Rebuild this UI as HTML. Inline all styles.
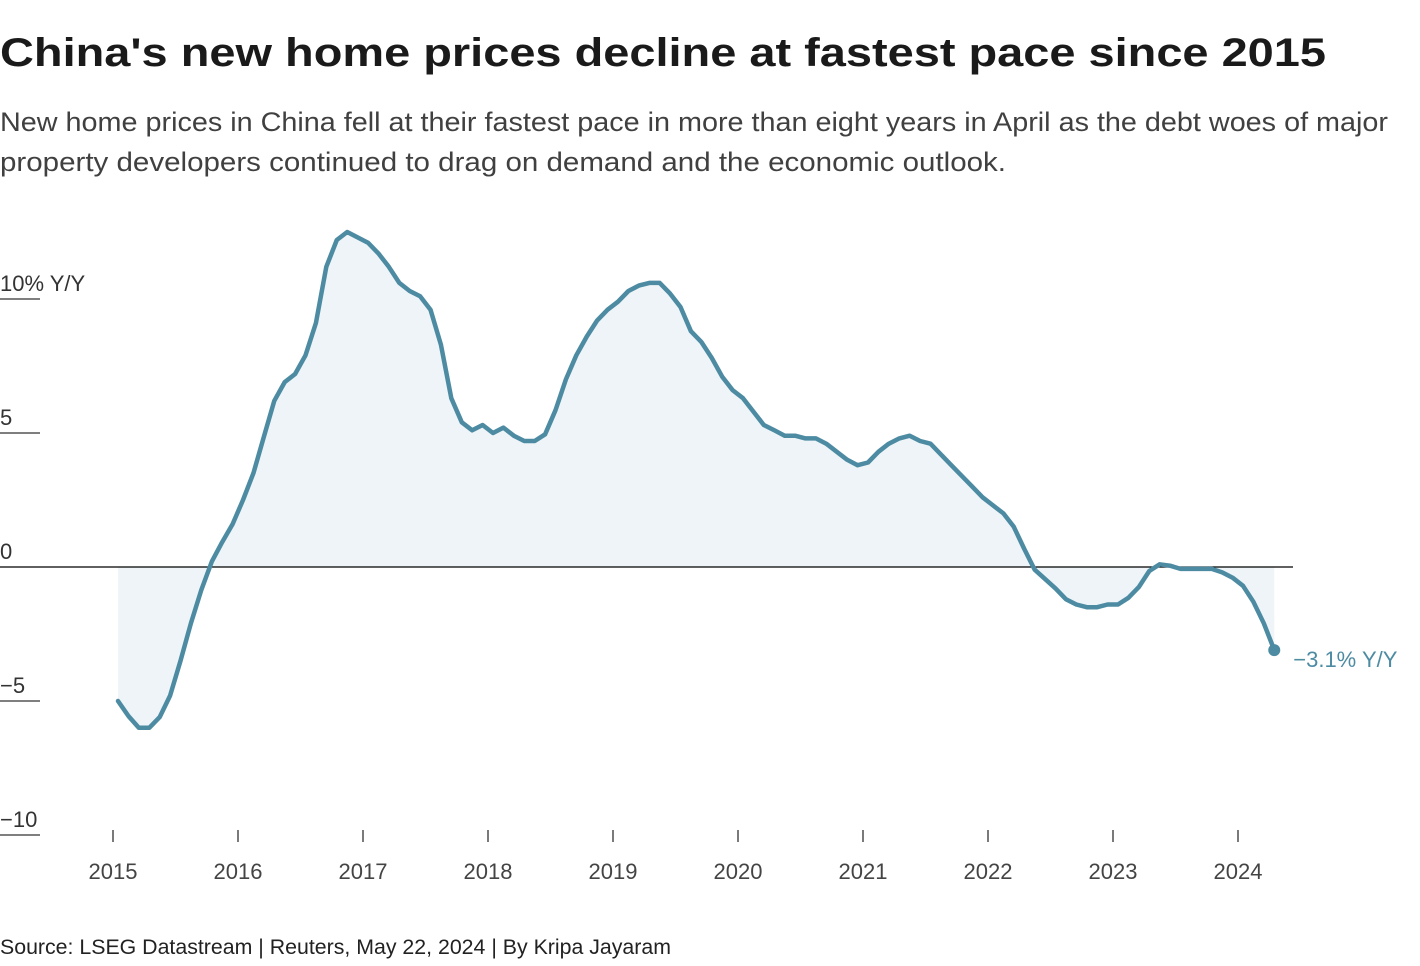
<!DOCTYPE html>
<html><head><meta charset="utf-8">
<style>
html,body{margin:0;padding:0;background:#fff;}
svg{display:block;font-family:"Liberation Sans",sans-serif;}
</style></head>
<body>
<svg id="chart" width="1420" height="966" viewBox="0 0 1420 966">
<text x="0" y="66" font-size="40" font-weight="bold" fill="#1a1a1a" textLength="1326" lengthAdjust="spacingAndGlyphs">China's new home prices decline at fastest pace since 2015</text>
<text x="0" y="131" font-size="27" fill="#404040" textLength="1388" lengthAdjust="spacingAndGlyphs">New home prices in China fell at their fastest pace in more than eight years in April as the debt woes of major</text>
<text x="0" y="171" font-size="27" fill="#404040" textLength="1006" lengthAdjust="spacingAndGlyphs">property developers continued to drag on demand and the economic outlook.</text>
<g id="yaxis"></g>
<g id="xaxis"></g>
<g id="plot"></g>
<text x="0" y="954" font-size="21" fill="#222" textLength="671" lengthAdjust="spacingAndGlyphs">Source: LSEG Datastream | Reuters, May 22, 2024 | By Kripa Jayaram</text>
</svg>
<script>
const values = [-5.0,-5.56,-6.0,-6.0,-5.6,-4.8,-3.5,-2.1,-0.86,0.2,0.93,1.6,
2.5,3.5,4.85,6.2,6.9,7.2,7.9,9.1,11.2,12.2,12.5,12.3,
12.1,11.7,11.2,10.6,10.3,10.1,9.6,8.3,6.3,5.4,5.1,5.3,
5.0,5.2,4.9,4.7,4.7,4.95,5.85,7.0,7.9,8.6,9.2,9.6,
9.9,10.3,10.5,10.6,10.6,10.2,9.7,8.8,8.4,7.8,7.1,6.6,
6.3,5.8,5.3,5.1,4.9,4.9,4.8,4.8,4.6,4.3,4.0,3.8,
3.9,4.3,4.6,4.8,4.9,4.7,4.6,4.2,3.8,3.4,3.0,2.6,
2.3,2.0,1.5,0.67,-0.1,-0.45,-0.8,-1.2,-1.4,-1.5,-1.5,-1.4,
-1.4,-1.15,-0.75,-0.15,0.1,0.05,-0.07,-0.07,-0.07,-0.07,-0.2,-0.4,
-0.7,-1.3,-2.1,-3.1];
const startYear = 2015;
const yTicks = [10,5,0,-5,-10];
const yTickLabels = ["10% Y/Y","5","0","\u22125","\u221210"];
const xYears = [2015,2016,2017,2018,2019,2020,2021,2022,2023,2024];
const lastLabel = "\u22123.1% Y/Y";

const NS="http://www.w3.org/2000/svg";
const y = v => 567 - v*26.8;
const xYear = yr => 113 + (yr-2015)*125;
const xIdx = i => 118 + i*125/12;
function mk(tag, attrs, parent){const e=document.createElementNS(NS,tag);for(const k in attrs)e.setAttribute(k,attrs[k]);parent.appendChild(e);return e;}
const ya=document.getElementById('yaxis'), xa=document.getElementById('xaxis'), pl=document.getElementById('plot');

yTicks.forEach((t,k)=>{
  const ln=mk('line',{x1:0,x2:t===0?1293:40,y1:y(t),y2:y(t),stroke:t===0?'#000':'#333','stroke-width':1.3},t===0?pl:ya);
  
  
  const tx=mk('text',{x:0,y:y(t)-8,'font-size':22,fill:'#333'},ya);
  tx.textContent=yTickLabels[k];
  
  
});
xYears.forEach(yr=>{
  const ln=mk('line',{x1:xYear(yr),x2:xYear(yr),y1:830,y2:842,stroke:'#333','stroke-width':1.3},xa);
  
  
  const tx=mk('text',{x:xYear(yr),y:879,'font-size':22,fill:'#444','text-anchor':'middle'},xa);
  tx.textContent=yr;
  
  
});
let d='';
values.forEach((v,i)=>{d+=(i?'L':'M')+xIdx(i).toFixed(1)+','+y(v).toFixed(1);});
const n=values.length-1;
const area=mk('path',{d:d+'L'+xIdx(n)+','+y(0)+'L'+xIdx(0)+','+y(0)+'Z',fill:'#eef4f7'},pl);


pl.appendChild(pl.querySelector('line'));
const line=mk('path',{d:d,fill:'none',stroke:'#4d8ba3','stroke-width':4.5,'stroke-linejoin':'round','stroke-linecap':'round'},pl);


const dot=mk('circle',{cx:xIdx(n),cy:y(values[n]),r:6,fill:'#4d8ba3'},pl);


const lb=mk('text',{x:xIdx(n)+19,y:y(values[n])+17,'font-size':22,fill:'#4d8ba3'},pl);
lb.textContent=lastLabel;


</script>
</body></html>
